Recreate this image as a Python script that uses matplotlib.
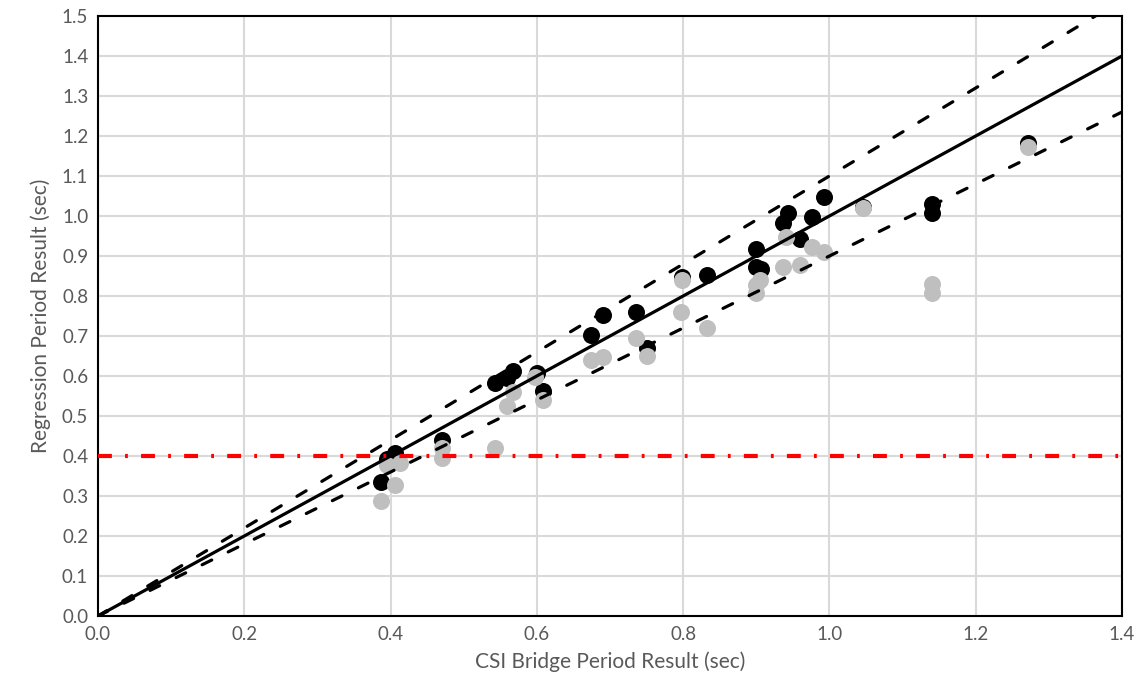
import matplotlib
matplotlib.use("Agg")
import matplotlib.pyplot as plt
import numpy as np

# CSI Bridge period (x) vs regression period (y)
black_x = [0.387, 0.395, 0.406, 0.470, 0.543, 0.559, 0.568, 0.600, 0.608, 0.674, 0.690, 0.735,
           0.751, 0.798, 0.832, 0.900, 0.900, 0.907, 0.937, 0.944, 0.960, 0.976, 0.992, 1.046,
           1.140, 1.140, 1.272]
black_y = [0.335, 0.392, 0.407, 0.440, 0.582, 0.595, 0.612, 0.607, 0.563, 0.702, 0.752, 0.761,
           0.669, 0.848, 0.853, 0.917, 0.873, 0.867, 0.982, 1.008, 0.942, 0.998, 1.047, 1.022,
           1.030, 1.008, 1.183]

gray_x = [0.387, 0.395, 0.406, 0.413, 0.470, 0.470, 0.543, 0.559, 0.568, 0.598, 0.608, 0.674,
          0.690, 0.735, 0.750, 0.797, 0.798, 0.832, 0.900, 0.900, 0.905, 0.937, 0.941, 0.960,
          0.976, 0.992, 1.046, 1.140, 1.140, 1.272]
gray_y = [0.288, 0.378, 0.328, 0.382, 0.419, 0.394, 0.419, 0.525, 0.561, 0.598, 0.540, 0.640,
          0.648, 0.694, 0.650, 0.761, 0.840, 0.721, 0.807, 0.828, 0.840, 0.872, 0.948, 0.878,
          0.923, 0.911, 1.019, 0.830, 0.808, 1.172]

line_x = [0.0, 1.4]
ratio_mid = 1.0
ratio_hi = 1.1
ratio_lo = 0.9
threshold = 0.4

x_ticks = [0.0, 0.2, 0.4, 0.6, 0.8, 1.0, 1.2, 1.4]
y_ticks = [round(0.1 * i, 1) for i in range(16)]

plt.rcParams['font.family'] = ['Lato', 'DejaVu Sans']
plt.rcParams['lines.scale_dashes'] = False

fig = plt.figure(figsize=(11.43, 6.96), dpi=100)
ax = fig.add_axes([0.0857, 0.1149, 0.8959, 0.8621])

ax.set_xlim(0, 1.4)
ax.set_ylim(0, 1.5)
ax.set_xticks(x_ticks)
ax.set_yticks(y_ticks)
ax.set_xticklabels([f"{v:.1f}" for v in x_ticks])
ax.set_yticklabels([f"{v:.1f}" for v in y_ticks])
ax.grid(True, color='#d9d9d9', linewidth=1.5, zorder=0)
ax.tick_params(length=0, labelsize=13.5, labelcolor='#595959', pad=7)
for s in ax.spines.values():
    s.set_color('black')
    s.set_linewidth(1.5)

ax.scatter(black_x, black_y, s=150, color='black', zorder=3, linewidths=0)
ax.scatter(gray_x, gray_y, s=150, color='#bfbfbf', zorder=4, linewidths=0)

lx = np.array(line_x)
ax.plot(lx, ratio_mid * lx, color='black', lw=2.3, zorder=5, solid_capstyle='butt')
ax.plot(lx, ratio_hi * lx, color='black', lw=2.3, zorder=5, dashes=(7.7, 13.2),
        dash_capstyle='round')
ax.plot(lx, ratio_lo * lx, color='black', lw=2.3, zorder=5, dashes=(7.7, 13.2),
        dash_capstyle='round')
ax.plot(lx, [threshold, threshold], color='red', lw=3, zorder=6,
        dashes=(10, 9.5, 2, 9.5))

ax.set_xlabel('CSI Bridge Period Result (sec)', fontsize=15, color='#595959', labelpad=6)
ax.set_ylabel('Regression Period Result (sec)', fontsize=15, color='#595959', labelpad=8)

fig.savefig('out.png', dpi=100)
